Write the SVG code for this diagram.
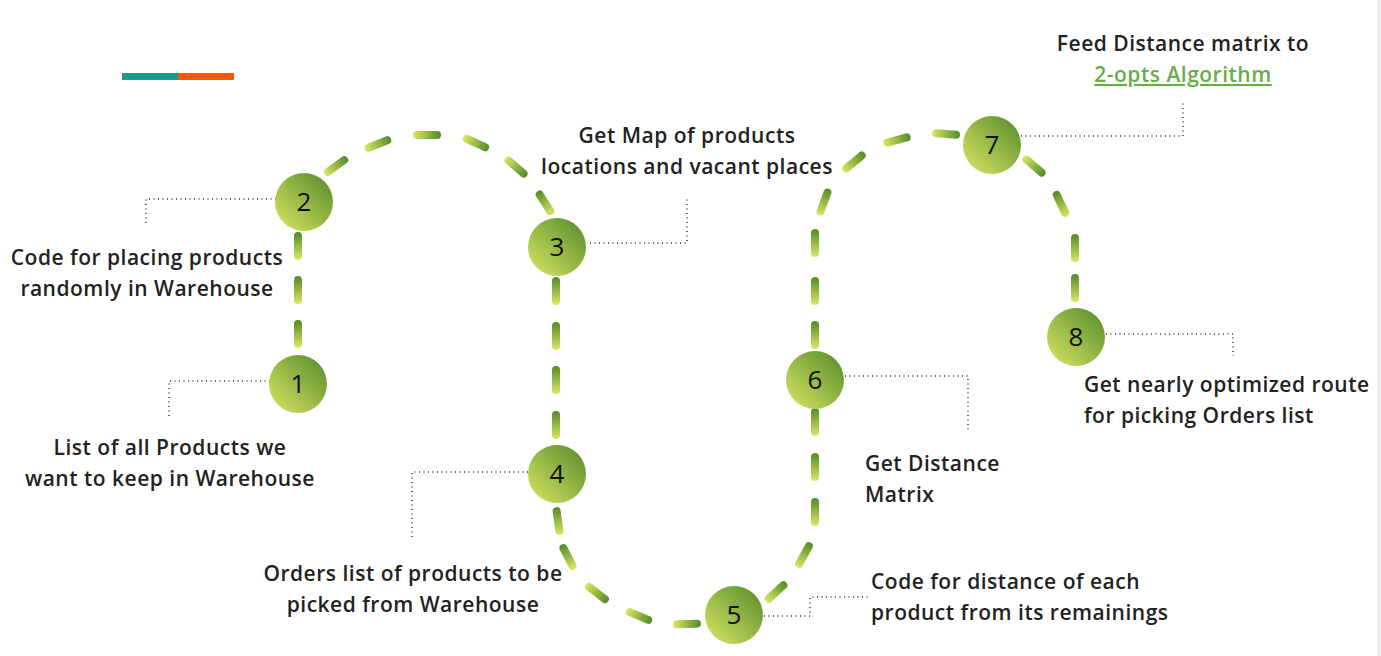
<svg xmlns="http://www.w3.org/2000/svg" xmlns:xlink="http://www.w3.org/1999/xlink" width="1381" height="656" viewBox="0 0 1381 656">
<style>
.t{font-family:"Open Sans","Liberation Sans",sans-serif;font-weight:600;font-size:21px;letter-spacing:0.5px;fill:#222;}
.c{text-anchor:middle;}
.n{font-family:"Open Sans","Liberation Sans",sans-serif;font-weight:400;font-size:26px;fill:#111;text-anchor:middle;}
.ld{fill:none;stroke:#333;stroke-width:1.5;stroke-dasharray:1 3.5;}
.lnk{fill:#6aab4c;text-decoration:underline;}
</style>
<defs>
<linearGradient id="gn" x1="0" y1="1" x2="1" y2="0">
<stop offset="0" stop-color="#dbe863"/>
<stop offset="1" stop-color="#52892a"/>
</linearGradient>
<linearGradient id="gd" x1="0" y1="0" x2="1" y2="0">
<stop offset="0" stop-color="#dbe863"/>
<stop offset="1" stop-color="#52892a"/>
</linearGradient>
<rect id="ds" x="-14" y="-4" width="28" height="8" rx="4" fill="url(#gd)"/>
</defs>
<rect width="1381" height="656" fill="#fff"/>
<rect x="1377" y="0" width="4" height="656" fill="#ececec"/>
<rect x="122" y="73" width="56" height="7" fill="#1a9a88"/>
<rect x="178" y="73" width="56" height="7" fill="#f05a0a"/>
<g id="connectors">
<use href="#ds" transform="translate(298 246) rotate(-90)"/>
<use href="#ds" transform="translate(298 290) rotate(-90)"/>
<use href="#ds" transform="translate(298 334) rotate(-90)"/>
<use href="#ds" transform="translate(336 166) rotate(-36)"/>
<use href="#ds" transform="translate(378 144) rotate(-22)"/>
<use href="#ds" transform="translate(427 135) rotate(0)"/>
<use href="#ds" transform="translate(476 143) rotate(25)"/>
<use href="#ds" transform="translate(516 167) rotate(41)"/>
<use href="#ds" transform="translate(545 203) rotate(-122)"/>
<use href="#ds" transform="translate(556 291) rotate(-90)"/>
<use href="#ds" transform="translate(556 336) rotate(-90)"/>
<use href="#ds" transform="translate(556 380) rotate(-90)"/>
<use href="#ds" transform="translate(556 425) rotate(-90)"/>
<use href="#ds" transform="translate(558 521) rotate(-98)"/>
<use href="#ds" transform="translate(568 557) rotate(-117)"/>
<use href="#ds" transform="translate(597 593) rotate(38)"/>
<use href="#ds" transform="translate(639 616) rotate(23)"/>
<use href="#ds" transform="translate(687 624) rotate(-2)"/>
<use href="#ds" transform="translate(776 592) rotate(-42)"/>
<use href="#ds" transform="translate(804 555) rotate(-61)"/>
<use href="#ds" transform="translate(815 512) rotate(-90)"/>
<use href="#ds" transform="translate(815 467) rotate(-90)"/>
<use href="#ds" transform="translate(815 422) rotate(-90)"/>
<use href="#ds" transform="translate(815 335) rotate(-90)"/>
<use href="#ds" transform="translate(815 291) rotate(-90)"/>
<use href="#ds" transform="translate(815 243) rotate(-90)"/>
<use href="#ds" transform="translate(824 202) rotate(-70)"/>
<use href="#ds" transform="translate(854 162) rotate(-40)"/>
<use href="#ds" transform="translate(897 140) rotate(-15)"/>
<use href="#ds" transform="translate(946 134) rotate(4)"/>
<use href="#ds" transform="translate(1034 166) rotate(41)"/>
<use href="#ds" transform="translate(1061 204) rotate(-115)"/>
<use href="#ds" transform="translate(1075 248) rotate(-90)"/>
<use href="#ds" transform="translate(1075 288) rotate(-90)"/>
<polyline class="ld" points="276,199 146,199 146,226"/>
<polyline class="ld" points="270,381 169,381 169,418"/>
<polyline class="ld" points="590,243 687,243 687,197"/>
<polyline class="ld" points="528,472 412,472 412,540"/>
<polyline class="ld" points="764,616 810,616 810,597 868,597"/>
<polyline class="ld" points="845,376 968,376 968,432"/>
<polyline class="ld" points="1021,136 1183,136 1183,103"/>
<polyline class="ld" points="1106,334 1233,334 1233,356"/>
</g>
<g id="node1"><circle cx="298" cy="384" r="29" fill="url(#gn)"/><text class="n" x="298" y="393">1</text>
<text class="t c" x="170" y="455">List of all Products we</text><text class="t c" x="170" y="486">want to keep in Warehouse</text></g>
<g id="node2"><circle cx="304" cy="202" r="29" fill="url(#gn)"/><text class="n" x="304" y="211">2</text>
<text class="t c" x="147" y="265">Code for placing products</text><text class="t c" x="147" y="296">randomly in Warehouse</text></g>
<g id="node3"><circle cx="557" cy="247" r="29" fill="url(#gn)"/><text class="n" x="557" y="256">3</text>
<text class="t c" x="687" y="143">Get Map of products</text><text class="t c" x="687" y="174">locations and vacant places</text></g>
<g id="node4"><circle cx="557" cy="474" r="29" fill="url(#gn)"/><text class="n" x="557" y="483">4</text>
<text class="t c" x="413" y="581">Orders list of products to be</text><text class="t c" x="413" y="612">picked from Warehouse</text></g>
<g id="node5"><circle cx="734" cy="615" r="29" fill="url(#gn)"/><text class="n" x="734" y="624">5</text>
<text class="t" x="871" y="589">Code for distance of each</text><text class="t" x="871" y="620">product from its remainings</text></g>
<g id="node6"><circle cx="815" cy="380" r="29" fill="url(#gn)"/><text class="n" x="815" y="389">6</text>
<text class="t" x="865" y="471">Get Distance</text><text class="t" x="865" y="502">Matrix</text></g>
<g id="node7"><circle cx="992" cy="145" r="29" fill="url(#gn)"/><text class="n" x="992" y="154">7</text>
<text class="t c" x="1183" y="51">Feed Distance matrix to</text><text class="t c lnk" x="1183" y="82">2-opts Algorithm</text></g>
<g id="node8"><circle cx="1076" cy="337" r="29" fill="url(#gn)"/><text class="n" x="1076" y="346">8</text>
<text class="t" x="1084" y="392">Get nearly optimized route</text><text class="t" x="1084" y="423">for picking Orders list</text></g>
</svg>
